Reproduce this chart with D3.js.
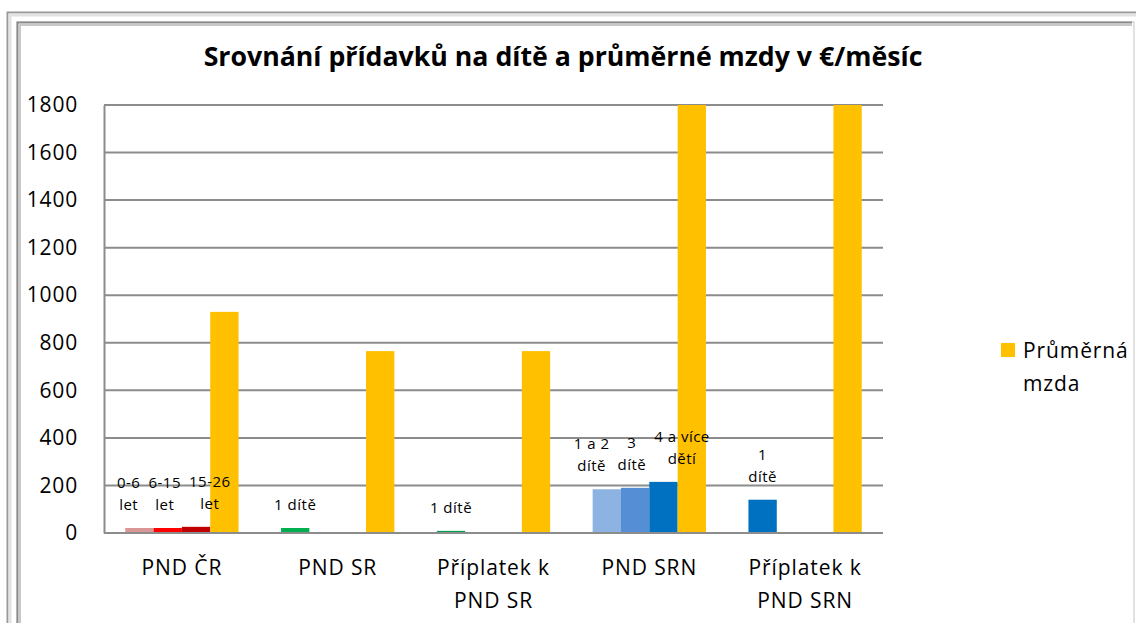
<!DOCTYPE html>
<html>
<head>
<meta charset="utf-8">
<script src="https://cdn.jsdelivr.net/npm/d3@7"></script>
<style>
  body { margin: 0; background: #fff; }
  svg { display: block; font-family: 'Open Sans', sans-serif; }
</style>
</head>
<body>
<div id="chart"></div>
<script>
// categories (x axis), wrapped the way the original shows them
const categories = ['PND ČR', 'PND SR', 'Příplatek k\nPND SR', 'PND SRN', 'Příplatek k\nPND SRN']

// child benefit values, €/month, three slots per category
const benefit1 = [21, 21, 9, 184, 140]
const benefit2 = [21, 0, 0, 190, 0]
const benefit3 = [26, 0, 0, 215, 0]
// average wage (the German values run past the 1800 top of the axis)
const avgWage = [930, 765, 765, 2500, 2500]

const labels1 = ['0-6\nlet', '1 dítě', '1 dítě', '1 a 2\ndítě', '1\ndítě']
const labels2 = ['6-15\nlet', null, null, '3\ndítě', null]
const labels3 = ['15-26\nlet', null, null, '4 a více\ndětí', null]

const yTicks = [0, 200, 400, 600, 800, 1000, 1200, 1400, 1600, 1800]
const legendLabel = 'Průměrná\nmzda'
const title = 'Srovnání přídavků na dítě a průměrné mzdy v €/měsíc'

// colours, point by point
const colors1 = ['#d99694', '#00b050', '#00a050', '#8db3e2', '#0070c0']
const colors2 = ['#ff0000', '#00b050', '#00b050', '#558ed5', '#0070c0']
const colors3 = ['#c00000', '#00b050', '#00b050', '#0070c0', '#0070c0']
const wageColor = '#ffc000'

const W = 1136
const H = 623
const margin = { top: 105, left: 104, right: 253, bottom: 90 }
const width = W - margin.left - margin.right
const height = H - margin.top - margin.bottom

const svg = d3.select('#chart').append('svg')
  .attr('width', W)
  .attr('height', H)

// frame
svg.append('path')
  .attr('d', `M${W},12.5 H7.5 V${H}`)
  .attr('fill', 'none').attr('stroke', '#9a9a9a').attr('stroke-width', 2)
svg.append('path')
  .attr('d', `M${W},15 H10 V${H}`)
  .attr('fill', 'none').attr('stroke', '#e2e2e2').attr('stroke-width', 3)
svg.append('path')
  .attr('d', `M1134,${H} V22 H17 V${H}`)
  .attr('fill', 'none').attr('stroke', '#d8d8d8').attr('stroke-width', 1.5)
svg.append('path')
  .attr('d', `M1132,22.5 H17.5 V${H}`)
  .attr('fill', 'none').attr('stroke', '#8a8a8a').attr('stroke-width', 2)
svg.append('path')
  .attr('d', `M1132,25 H20 V${H}`)
  .attr('fill', 'none').attr('stroke', '#c8c8c8').attr('stroke-width', 2)

svg.append('text')
  .attr('x', 563)
  .attr('y', 66)
  .attr('text-anchor', 'middle')
  .attr('font-size', 26.7)
  .attr('font-weight', 'bold')
  .attr('fill', '#000')
  .text(title)

const g = svg.append('g')
  .attr('transform', `translate(${margin.left},${margin.top})`)

const x = d3.scaleBand().domain(categories).range([0, width])
const slots = ['s1', 's2', 's3', 'wage']
// Excel-like gap width of 150%: 4 bars plus 1.5 bar of gap fill a band
const barW = x.bandwidth() / (slots.length + 1.5)
const xs = d3.scaleBand().domain(slots)
  .range([0.75 * barW, 0.75 * barW + barW * slots.length])

const y = d3.scaleLinear().domain([0, 1800]).range([height, 0])

// gridlines
g.append('g')
  .selectAll('line')
  .data(yTicks.filter(d => d > 0))
  .join('line')
  .attr('x1', 0).attr('x2', width)
  .attr('y1', d => y(d)).attr('y2', d => y(d))
  .attr('stroke', '#8c8c8c').attr('stroke-width', 2)

const yAxis = g.append('g')
  .call(d3.axisLeft(y).tickValues(yTicks).tickFormat(d3.format('d')).tickSize(0).tickPadding(26))
yAxis.select('.domain').attr('stroke', '#8c8c8c').attr('stroke-width', 2)
yAxis.selectAll('text')
  .attr('font-size', 21)
  .attr('letter-spacing', 0.8)
  .attr('font-family', "'Open Sans', sans-serif")
  .attr('fill', '#000')

// bars
const defs = svg.append('defs')
defs.append('clipPath').attr('id', 'plot-clip')
  .append('rect').attr('x', 0).attr('y', 0).attr('width', width).attr('height', height)

const series = [
  { key: 's1', values: benefit1, colors: colors1, labels: labels1 },
  { key: 's2', values: benefit2, colors: colors2, labels: labels2 },
  { key: 's3', values: benefit3, colors: colors3, labels: labels3 },
  { key: 'wage', values: avgWage, colors: categories.map(() => wageColor), labels: categories.map(() => null) }
]

const points = []
series.forEach(s => {
  categories.forEach((c, i) => {
    points.push({ cat: c, key: s.key, value: s.values[i], color: s.colors[i], label: s.labels[i] })
  })
})

g.append('g')
  .attr('clip-path', 'url(#plot-clip)')
  .selectAll('rect')
  .data(points.filter(d => d.value > 0))
  .join('rect')
  .attr('x', d => x(d.cat) + xs(d.key))
  .attr('width', xs.bandwidth())
  .attr('y', d => y(d.value))
  .attr('height', d => y(0) - y(d.value))
  .attr('fill', d => d.color)

// data labels
const labelPoints = points.filter(d => d.label)
labelPoints.forEach(d => {
  d.lx = x(d.cat) + xs(d.key) + xs.bandwidth() / 2
})
const lab = g.append('g')
  .selectAll('text')
  .data(labelPoints)
  .join('text')
  .attr('text-anchor', 'middle')
  .attr('font-size', 15)
  .attr('letter-spacing', 0.5)
  .attr('fill', '#000')
lab.selectAll('tspan')
  .data(d => d.label.split('\n'))
  .join('tspan')
  .attr('x', 0)
  .attr('dy', (d, i) => (i === 0 ? 0 : 22))
  .text(d => d)

// measure, then push labels of the same group apart so they do not collide
lab.each(function(d) {
  d.w = d3.max(d3.select(this).selectAll('tspan').nodes(), n => n.getComputedTextLength())
})
d3.groups(labelPoints, d => d.cat).forEach(([, grp]) => {
  grp.sort((a, b) => a.lx - b.lx)
  for (let iter = 0; iter < 50; iter++) {
    for (let i = 0; i < grp.length - 1; i++) {
      const a = grp[i]
      const b = grp[i + 1]
      const overlap = a.lx + a.w / 2 + 8 - (b.lx - b.w / 2)
      if (overlap > 0) {
        a.lx -= overlap / 2
        b.lx += overlap / 2
      }
    }
  }
})
lab.attr('transform', d => {
  const n = d.label.split('\n').length
  return `translate(${d.lx},${y(d.value) - 18 - (n - 1) * 22})`
})

// zero axis line
g.append('line')
  .attr('x1', 0).attr('x2', width)
  .attr('y1', y(0)).attr('y2', y(0))
  .attr('stroke', '#8c8c8c').attr('stroke-width', 2)

// category labels
const catText = g.append('g')
  .selectAll('text')
  .data(categories)
  .join('text')
  .attr('text-anchor', 'middle')
  .attr('font-size', 21)
  .attr('letter-spacing', 0.9)
  .attr('fill', '#000')
  .attr('transform', d => `translate(${x(d) + x.bandwidth() / 2},${height + 42})`)
catText.selectAll('tspan')
  .data(d => d.split('\n'))
  .join('tspan')
  .attr('x', 0)
  .attr('dy', (d, i) => (i === 0 ? 0 : 33))
  .text(d => d)

// legend
const legend = svg.append('g').attr('transform', 'translate(1001,343)')
legend.append('rect')
  .attr('width', 14).attr('height', 14)
  .attr('fill', wageColor)
const legText = legend.append('text')
  .attr('x', 22)
  .attr('y', 15)
  .attr('font-size', 21)
  .attr('letter-spacing', 0.9)
  .attr('fill', '#000')
legText.selectAll('tspan')
  .data(legendLabel.split('\n'))
  .join('tspan')
  .attr('x', 22)
  .attr('dy', (d, i) => (i === 0 ? 0 : 33))
  .text(d => d)
</script>
</body>
</html>
